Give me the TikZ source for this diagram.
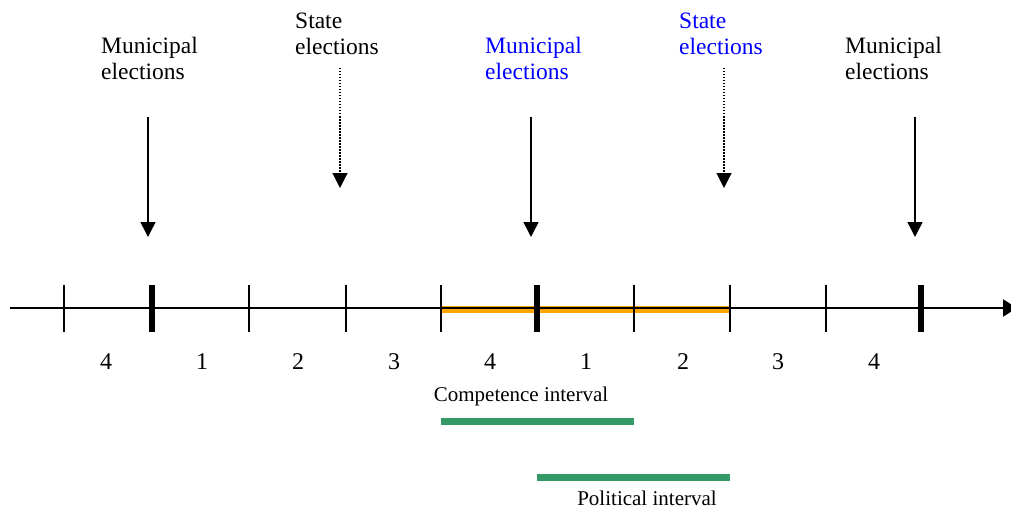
\documentclass[tikz,border=0pt]{standalone}
\usepackage{fontspec}
\setmainfont{Liberation Serif}
\usetikzlibrary{arrows.meta}
\definecolor{elblue}{RGB}{0,0,255}
\definecolor{barorange}{RGB}{255,165,0}
\definecolor{bargreen}{RGB}{51,153,102}
\begin{document}
\begin{tikzpicture}[x=1pt,y=-1pt,
  lab/.style={font=\fontsize{23.5}{26}\selectfont, align=left, anchor=north west, inner sep=0pt},
  num/.style={font=\fontsize{24}{28}\selectfont, inner sep=0pt, anchor=base},
  ilab/.style={font=\fontsize{21}{24}\selectfont, inner sep=0pt, anchor=base},
  elarrow/.style={line width=1.5pt, -{Triangle[width=15pt,length=15pt]}},
  statearrow/.style={line width=1.2pt, dash pattern=on 1.5pt off 1.5pt, -{Triangle[width=15pt,length=15pt]}},
  axisline/.style={line width=2pt, -{Triangle[width=17pt,length=14pt]}},
  thintick/.style={line width=1.5pt},
  thicktick/.style={line width=6pt},
  orangebar/.style={barorange, line width=7pt},
  greenbar/.style={bargreen, line width=7pt}
]
\useasboundingbox (0,0) rectangle (1011,508);

% election labels
\node[lab] (m1) at (101,37) {Municipal\\elections};
\node[lab] (s1) at (295,13) {State\\elections};
\node[lab, text=elblue] (m2) at (485,37) {Municipal\\elections};
\node[lab, text=elblue] (s2) at (679,13) {State\\elections};
\node[lab] (m3) at (845,37) {Municipal\\elections};

% arrow endpoints
\coordinate (m1a) at (148,117); \coordinate (m1b) at (148,237);
\coordinate (s1a) at (340,68);  \coordinate (s1b) at (340,188);
\coordinate (m2a) at (531,117); \coordinate (m2b) at (531,237);
\coordinate (s2a) at (724,68);  \coordinate (s2b) at (724,188);
\coordinate (m3a) at (915,117); \coordinate (m3b) at (915,237);

\draw[elarrow] (m1a) -- (m1b);
\draw[statearrow] (s1a) -- (s1b);
\draw[elarrow] (m2a) -- (m2b);
\draw[statearrow] (s2a) -- (s2b);
\draw[elarrow] (m3a) -- (m3b);

% orange bar
\coordinate (oa) at (442,309.5); \coordinate (ob) at (730,309.5);
\draw[orangebar] (oa) -- (ob);

% axis
\coordinate (ax0) at (10,308); \coordinate (ax1) at (1017,308);
\draw[axisline] (ax0) -- (ax1);

% ticks
\foreach \x/\n in {64/a,249/b,346/c,441/d,634/e,730/f,826/g}{
  \coordinate (t\n top) at (\x,285); \coordinate (t\n bot) at (\x,332);
  \draw[thintick] (t\n top) -- (t\n bot);
}
\foreach \x/\n in {152/a,537/b,921/c}{
  \coordinate (T\n top) at (\x,285); \coordinate (T\n bot) at (\x,332);
  \draw[thicktick] (T\n top) -- (T\n bot);
}

% numbers
\foreach \x/\v/\n in {106/4/1,202/1/2,298/2/3,394/3/4,490/4/5,586/1/6,683/2/7,778/3/8,874/4/9}{
  \node[num] (n\n) at (\x,369.5) {\v};
}

% intervals
\node[ilab] (ci) at (521,401.5) {Competence interval};
\coordinate (ca) at (441,421.5); \coordinate (cb) at (634,421.5);
\draw[greenbar] (ca) -- (cb);
\coordinate (pa) at (537,477.5); \coordinate (pb) at (730,477.5);
\draw[greenbar] (pa) -- (pb);
\node[ilab] (pi) at (647,505) {Political interval};
\end{tikzpicture}
\end{document}
